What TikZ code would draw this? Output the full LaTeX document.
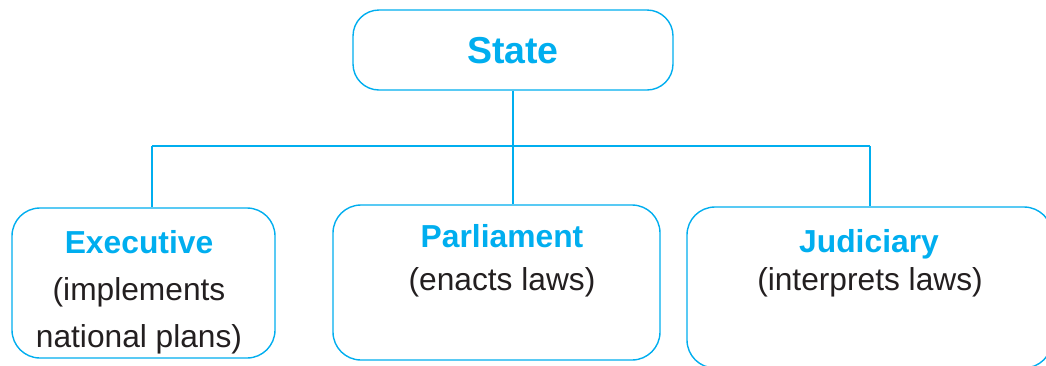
\documentclass[tikz,border=0pt]{standalone}
\usepackage{fontspec}
\setmainfont{Liberation Sans}
\definecolor{cyanline}{RGB}{0,174,239}
\definecolor{textdark}{RGB}{35,31,32}
\tikzset{
  box/.style={draw=cyanline, line width=1.4pt, rounded corners=#1, inner sep=0pt},
  box/.default=28pt,
  conn/.style={draw=cyanline, line width=2.2pt},
  title/.style={anchor=base, text=cyanline, font=\bfseries\fontsize{31.8}{34}\selectfont, inner sep=0pt},
  desc/.style={anchor=base, text=textdark, font=\fontsize{31.7}{34}\selectfont, inner sep=0pt}
}
\begin{document}
\begin{tikzpicture}[x=1pt,y=-1pt]
\clip (0,0) rectangle (1046,365);
\fill[white] (0,0) rectangle (1046,365);
% boxes
\node[box=26pt, minimum width=320pt, minimum height=80pt] (state) at (513,50) {};
\node[box, minimum width=263pt, minimum height=150pt] (exec) at (143.5,283) {};
\node[box, minimum width=327pt, minimum height=155pt] (parl) at (496.5,282.5) {};
\node[box, minimum width=365pt, minimum height=161pt] (jud) at (869.5,287.5) {};
% texts
\node[title, font=\bfseries\fontsize{37.5}{40}\selectfont] (tstate) at (513,63) {State};
\node[title] (texec) at (139,253) {Executive};
\node[desc] (dexec1) at (139,300) {(implements};
\node[desc] (dexec2) at (139,347) {national plans)};
\node[title] (tparl) at (502,247) {Parliament};
\node[desc] (dparl) at (502,290) {(enacts laws)};
\node[title] (tjud) at (869,252) {Judiciary};
\node[desc] (djud) at (870,290) {(interprets laws)};
% connectors
\coordinate (bar) at (513,146);
\coordinate (lbar) at (152,146);
\coordinate (rbar) at (870,146);
\draw[conn] (state.south) -- (bar);
\draw[conn] (lbar) -- (rbar);
\draw[conn] (lbar) -- (lbar |- exec.north);
\draw[conn] (bar) -- (bar |- parl.north);
\draw[conn] (rbar) -- (rbar |- jud.north);
\end{tikzpicture}
\end{document}
